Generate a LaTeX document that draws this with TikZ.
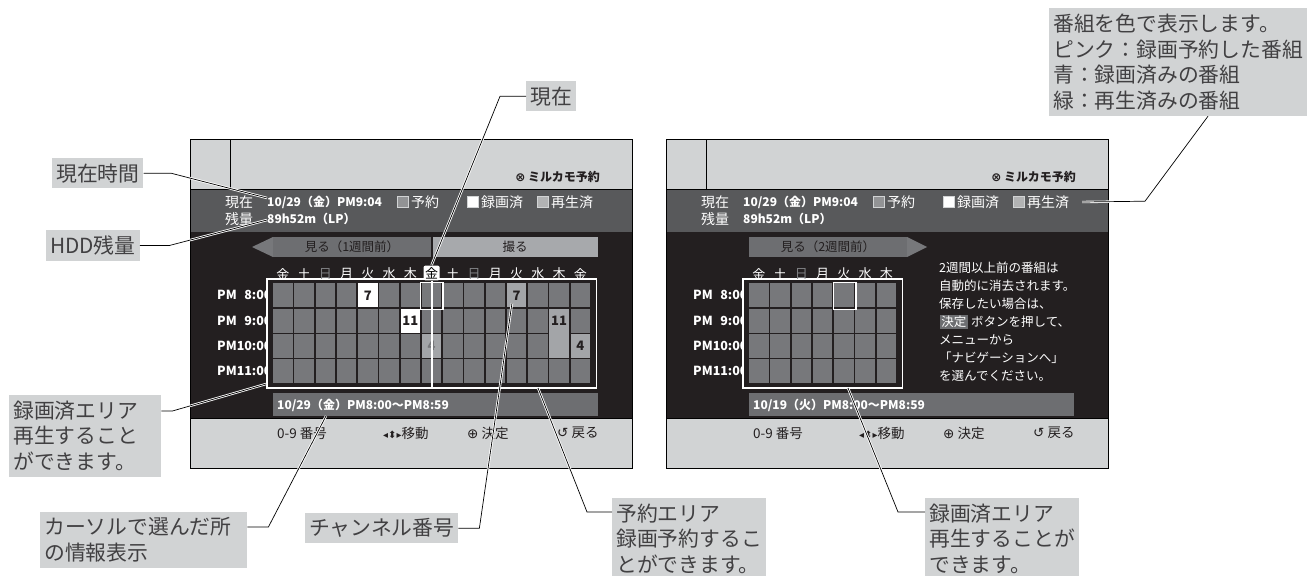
\documentclass[tikz,border=0pt]{standalone}
\usepackage{fontspec}
\newfontfamily\jp{Noto Sans CJK JP}
\newfontfamily\sym{DejaVu Sans}
\usepackage{tikz}
\usetikzlibrary{positioning}

\definecolor{panelgray}{HTML}{D1D3D4}
\definecolor{bandgray}{HTML}{58595B}
\definecolor{screenblack}{HTML}{231F20}
\definecolor{cellgray}{HTML}{77787B}
\definecolor{donegray}{HTML}{A3A5A8}
\definecolor{tabgray}{HTML}{6D6E71}
\definecolor{tablight}{HTML}{A7A9AC}
\definecolor{sungray}{HTML}{808285}
\definecolor{notegray}{HTML}{D1D3D4}
\definecolor{notetext}{HTML}{414042}

\setlength{\fboxsep}{1.5pt}
\setlength{\fboxrule}{0.6pt}
\newcommand{\sunday}{\textcolor{sungray}{日}}

\begin{document}
\begin{tikzpicture}[x=1pt, y=-1pt,
  note/.style={fill=notegray, text=notetext, anchor=north west, align=left,
    inner xsep=4pt, inner ysep=5.5pt, font=\jp\fontsize{20.8}{25.8}\selectfont},
  lead/.style={line width=0.7pt, preaction={draw=white, line width=2.4pt}},
  scr/.style={inner sep=0pt, anchor=west, text=white, font=\jp\fontsize{14}{16}\selectfont},
  scrb/.style={scr, font=\jp\bfseries\fontsize{12}{14}\selectfont},
  btm/.style={scr, text=screenblack, font=\jp\fontsize{13.5}{16}\selectfont},
  celltxt/.style={inner sep=0pt, text=screenblack, font=\jp\bfseries\fontsize{13}{15}\selectfont},
  day/.style={inner sep=0pt, text=white, font=\jp\fontsize{13}{15}\selectfont},
  legendbox/.style={draw=panelgray, line width=0.5pt},
  tab/.style={inner sep=0pt, text=screenblack, font=\jp\fontsize{12.5}{15}\selectfont}
]
\useasboundingbox (0,0) rectangle (1313,575);

% the two screens
\foreach \s/\ox/\nc in {L/190/15, R/666/7}{
  \pgfmathsetmacro{\gridR}{\ox+83+21.25*\nc+4.5}
  \pgfmathtruncatemacro{\lastc}{\nc-1}
  \fill[panelgray] (\ox,139) rectangle (\ox+442,468);
  \fill[bandgray] (\ox,189) rectangle (\ox+442,232);
  \fill[screenblack] (\ox,232) rectangle (\ox+442,418);
  \draw[line width=0.8pt] (\ox+40,139) -- (\ox+40,189)
    (\ox,189) -- (\ox+442,189) (\ox,418) -- (\ox+442,418);
  \draw[line width=1pt] (\ox,139) rectangle (\ox+442,468);
  % header
  \node[scrb, anchor=east, text=screenblack]
    (mil\s) at (\ox+410,177) {{\sym ⊗} ミルカモ予約};
  \node[scr] (now\s) at (\ox+35,202) {現在};
  \node[scrb] (nowval\s) at (\ox+77,202) {10/29（金）PM9:04};
  \node[scr] (rem\s) at (\ox+35,219) {残量};
  \node[scrb] (remval\s) at (\ox+77,219) {89h52m（LP）};
  \fill[cellgray!80!white, legendbox] (\ox+207,196.5) rectangle ++(11,11);
  \node[scr] (keyA\s) at (\ox+221,202) {予約};
  \fill[white, legendbox] (\ox+277,196.5) rectangle ++(11,11);
  \node[scr] (keyB\s) at (\ox+291,202) {録画済};
  \fill[panelgray!85!black, legendbox] (\ox+347,196.5) rectangle ++(11,11);
  \node[scr] (keyC\s) at (\ox+361,202) {再生済};
  % time labels and grid
  \foreach \t [count=\r from 0] in {PM\hphantom{1}8:00, PM\hphantom{1}9:00, PM10:00, PM11:00}
    \node[scrb, font=\jp\bfseries\fontsize{12.5}{15}\selectfont] (hour\s\r) at (\ox+27,295.3+25.3*\r) {\t};
  \draw[white, line width=1.3pt, fill=screenblack] (\ox+77,279) rectangle (\gridR,388);
  \foreach \c in {0,...,\lastc}{
    \foreach \r in {0,...,3}
      \fill[cellgray] (\ox+83+21.25*\c,283.3+25.3*\r) rectangle ++(19.7,24);
  }
  % info bar and keys
  \fill[tabgray] (\ox+83,393) rectangle (\ox+408,416);
  \node[btm] (num\s) at (\ox+87,433) {0-9 番号};
  \node[btm] (move\s) at (\ox+193,433) {{\sym\fontsize{10}{12}\selectfont ◂⬍▸}移動};
  \node[btm] (ok\s) at (\ox+277,433) {{\sym ⊕} 決定};
  \node[btm] (back\s) at (\ox+367,433) {{\sym ↺} 戻る};
}

% left screen: tabs, days, programmes
\fill[cellgray] (252,247) -- (273,237) -- (273,257) -- cycle;
\fill[tabgray] (273,237) rectangle (431,257);
\node[tab] (tabSeeL) at (352,247) {見る（1週間前）};
\fill[tablight] (432.5,237) rectangle (598,257);
\node[tab] (tabRec) at (515,247) {撮る};
\foreach \d [count=\i from 0] in {金,土,\sunday,月,火,水,木,金,土,\sunday,月,火,水,木,金}
  \node[day] (dayL\i) at (282.85+21.25*\i,274) {\d};

\fill[white] (358,283.3) rectangle ++(19.7,24);
\node[celltxt] (ch7L) at (367.85,295.3) {7};
\fill[white] (400.5,308.6) rectangle ++(19.7,24);
\node[celltxt] (ch11L) at (410.35,320.6) {11};
\fill[donegray] (421.75,333.9) rectangle ++(19.7,24);
\node[celltxt, text=cellgray] (ch4L) at (431.6,345.9) {4};
\fill[donegray] (506.75,283.3) rectangle ++(19.7,24);
\node[celltxt] (ch7R) at (516.6,295.3) {7};
\fill[donegray] (549.25,308.6) rectangle ++(19.7,49.3);
\node[celltxt] (ch11R) at (559.1,320.6) {11};
\fill[donegray] (570.5,333.9) rectangle ++(19.7,24);
\node[celltxt] (ch4R) at (580.35,345.9) {4};

\draw[white, line width=1.5pt] (420.5,282.3) rectangle (442.9,309.3);
\node[day, fill=white, text=black, rounded corners=2pt, inner sep=1.6pt] (dayNow) at (431.6,273) {金};
\draw[white, line width=2pt] (dayNow.south) -- (431.6,388);
\node[scrb] (infoL) at (277,405) {10/29（金）PM8:00〜PM8:59};

% right screen
\fill[tabgray] (749,237) rectangle (907,257);
\node[tab] (tabSeeR) at (828,247) {見る（2週間前）};
\fill[cellgray] (907,237) -- (927,247) -- (907,257) -- cycle;
\foreach \d [count=\i from 0] in {金,土,\sunday,月,火,水,木}
  \node[day] (dayR\i) at (758.85+21.25*\i,274) {\d};
\draw[white, line width=1.5pt] (833.5,282.3) rectangle (855.9,309.3);
\node[scrb] (infoR) at (753,405) {10/19（火）PM8:00〜PM8:59};
\node[scr, anchor=north west, align=left, font=\jp\fontsize{12.5}{18}\selectfont] (msgR) at (939,262)
  {2週間以上前の番組は\\自動的に消去されます。\\保存したい場合は、\\
   \fcolorbox{screenblack}{tabgray}{決定} ボタンを押して、\\メニューから\\「ナビゲーションへ」\\を選んでください。};

% callouts
\node[note] (nJikan) at (52,158) {現在時間};
\node[note] (nHdd) at (46,230) {HDD残量};
\node[note] (nNow) at (526,81) {現在};
\node[note, text width=144pt] (nRokuL) at (9,395) {録画済エリア\\再生すること\\ができます。};
\node[note, text width=199pt] (nCursor) at (40,512) {カーソルで選んだ所\\の情報表示};
\node[note] (nCh) at (305,513) {チャンネル番号};
\node[note] (nYoyaku) at (612,498) {予約エリア\\録画予約するこ\\とができます。};
\node[note] (nRokuR) at (925,498) {録画済エリア\\再生することが\\できます。};
\node[note] (nColor) at (1049,8) {番組を色で表示します。\\ピンク：録画予約した番組\\青：録画済みの番組\\緑：再生済みの番組};

% leader ends
\coordinate (tJikan) at (267,198);
\coordinate (tHdd) at (267,220);
\coordinate (tNow) at (431.6,265);
\coordinate (tRokuL) at (266,384);
\coordinate (tCursor) at (326,416);
\coordinate (tCh) at (512,303);
\coordinate (tYoyaku) at (538,388);
\coordinate (tRokuR) at (848,388);
\coordinate (tColor) at (1082,202);

\draw[lead] (nJikan.east) -- ++(28,0) -- (tJikan);
\draw[lead] (nHdd.east) -- ++(30,0) -- (tHdd);
\draw[lead] (nNow.west) -- ++(-26,0) -- (tNow);
\draw[lead] ([yshift=-16pt]nRokuL.north east) -- ++(11,0) -- (tRokuL);
\draw[lead] ([yshift=-15pt]nCursor.north east) -- ++(21,0) -- (tCursor);
\draw[lead] (nCh.east) -- ++(21,0) -- (tCh);
\draw[lead] ([yshift=-14pt]nYoyaku.north west) -- ++(-25,0) -- (tYoyaku);
\draw[lead] ([yshift=-14pt]nRokuR.north west) -- ++(-27,0) -- (tRokuR);
\draw[lead] ([xshift=159pt]nColor.south west) -- ++(-63,85) -- (tColor);
\end{tikzpicture}
\end{document}
